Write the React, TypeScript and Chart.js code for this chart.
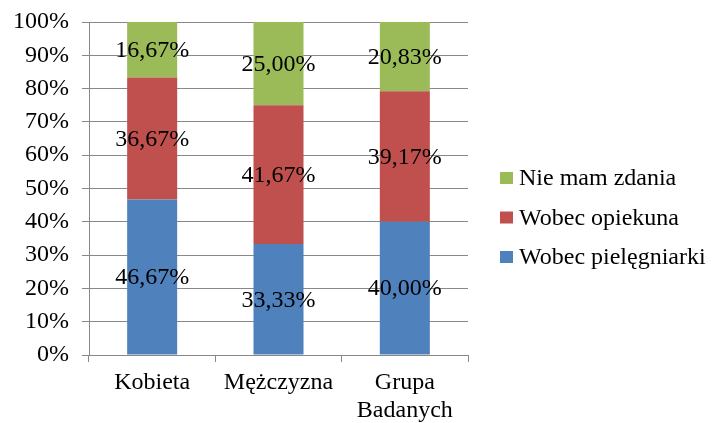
import React, { useEffect, useRef } from "react";
import { Chart, registerables } from "chart.js";

Chart.register(...registerables);

const categories: (string | string[])[] = ["Kobieta", "Mężczyzna", ["Grupa", "Badanych"]];
const seriesNames = ["Wobec pielęgniarki", "Wobec opiekuna", "Nie mam zdania"];
const pielegniarki = [46.67, 33.33, 40.0];
const opiekuna = [36.67, 41.67, 39.17];
const nieMamZdania = [16.67, 25.0, 20.83];
const seriesColors = ["#4F81BD", "#C0504D", "#9BBB59"];
const yTicks = [0, 10, 20, 30, 40, 50, 60, 70, 80, 90, 100];

const FONT = "'Liberation Serif', 'Times New Roman', serif";
const FONT_SIZE = 24;
const GRID = "#888888";

Chart.defaults.font.family = FONT;
Chart.defaults.font.size = FONT_SIZE;
Chart.defaults.color = "#000";

const fmt = (v: number) => v.toFixed(2).replace(".", ",") + "%";

// Writes each segment's value in the middle of its bar piece
const segmentLabels = {
  id: "segmentLabels",
  afterDatasetsDraw(chart: any) {
    const ctx = chart.ctx;
    ctx.save();
    ctx.font = `${FONT_SIZE}px ${FONT}`;
    ctx.fillStyle = "#000";
    ctx.textAlign = "center";
    ctx.textBaseline = "middle";
    chart.data.datasets.forEach((ds: any, di: number) => {
      const meta = chart.getDatasetMeta(di);
      meta.data.forEach((bar: any, i: number) => {
        const yMid = (bar.y + bar.base) / 2;
        ctx.fillText(fmt(ds.data[i]), bar.x, yMid + 1);
      });
    });
    ctx.restore();
  },
};

// Legend to the right of the plot, top entry = last series
const sideLegend = {
  id: "sideLegend",
  afterDraw(chart: any) {
    const ctx = chart.ctx;
    const area = chart.chartArea;
    const x0 = area.right + 32;
    const rowGap = 39.5;
    const n = chart.data.datasets.length;
    const midY = (area.top + area.bottom) / 2 + 29;
    ctx.save();
    ctx.font = `${FONT_SIZE}px ${FONT}`;
    ctx.textBaseline = "middle";
    ctx.textAlign = "left";
    for (let k = 0; k < n; k++) {
      const di = n - 1 - k;
      const ds = chart.data.datasets[di];
      const cy = midY + (k - (n - 1) / 2) * rowGap;
      ctx.fillStyle = ds.backgroundColor;
      ctx.fillRect(x0, cy - 6, 13, 12);
      ctx.fillStyle = "#000";
      ctx.fillText(ds.label, x0 + 19, cy + 1);
    }
    ctx.restore();
  },
};

export default function App() {
  const ref = useRef<HTMLCanvasElement>(null);

  useEffect(() => {
    const data = [pielegniarki, opiekuna, nieMamZdania];
    const chart = new Chart(ref.current!, {
      type: "bar",
      data: {
        labels: categories,
        datasets: seriesNames.map((name, i) => ({
          label: name,
          data: data[i],
          backgroundColor: seriesColors[i],
          borderWidth: 0,
          categoryPercentage: 1,
          barPercentage: 0.396,
        })),
      },
      options: {
        responsive: false,
        animation: false,
        layout: { padding: { top: 22, right: 244, bottom: 0, left: 0 } },
        plugins: {
          tooltip: { enabled: false },
          legend: { display: false },
        },
        scales: {
          x: {
            stacked: true,
            afterFit: (axis: any) => {
              axis.height = 68;
              axis.paddingLeft = 0;
              axis.paddingRight = 0;
            },
            grid: {
              drawOnChartArea: false,
              drawTicks: true,
              tickLength: 7,
              color: GRID,
            },
            border: { color: GRID },
            ticks: {
              font: { family: FONT, size: FONT_SIZE, lineHeight: 1.17 },
              color: "#000",
              padding: 7,
              maxRotation: 0,
            },
          },
          y: {
            stacked: true,
            min: 0,
            max: 100,
            afterBuildTicks: (axis: any) => {
              axis.ticks = yTicks.map((v) => ({ value: v }));
            },
            afterFit: (axis: any) => {
              axis.width = 89;
              axis.paddingTop = 0;
              axis.paddingBottom = 0;
            },
            grid: { color: GRID, tickLength: 7 },
            border: { color: GRID },
            ticks: {
              font: { family: FONT, size: FONT_SIZE },
              color: "#000",
              padding: 13,
              callback: (v: any) => v + "%",
            },
          },
        },
      },
      plugins: [segmentLabels, sideLegend],
    });
    return () => chart.destroy();
  }, []);

  return (
    <div style={{ position: "fixed", left: 0, top: 0, width: 712, height: 423, background: "#fff" }}>
      <canvas ref={ref} width={712} height={423} />
    </div>
  );
}
